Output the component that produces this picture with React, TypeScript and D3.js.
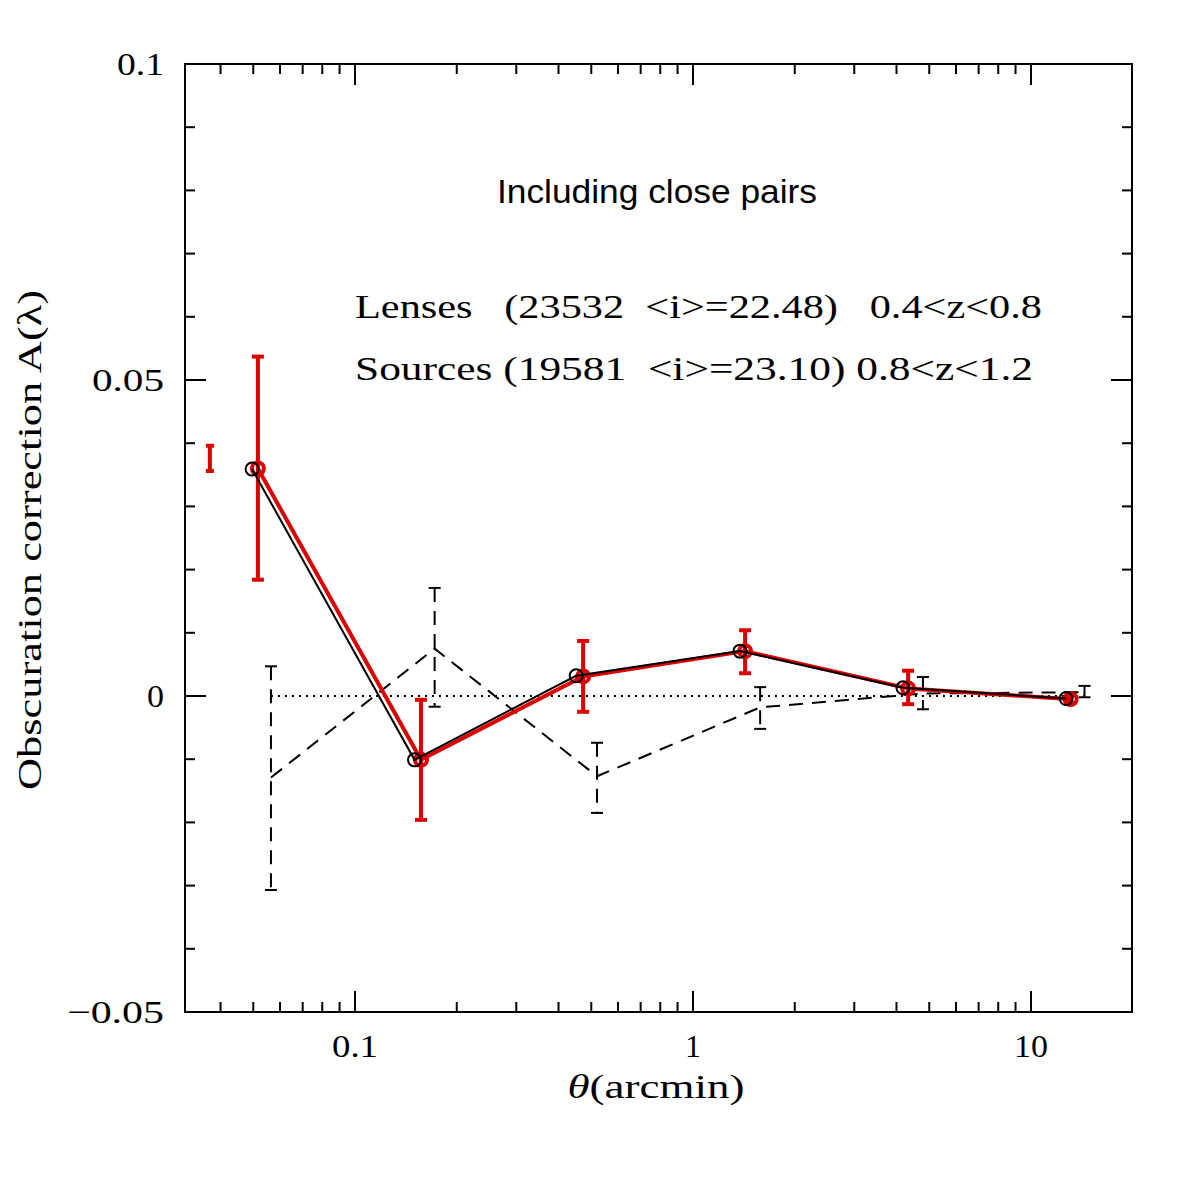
import * as d3 from "d3";

// Red series (thick line, open circles, error bars)
const redTheta = [0.0516, 0.1567, 0.473, 1.426, 4.33, 13.1];
const redA = [0.036, -0.0101, 0.0031, 0.0071, 0.0012, -0.0005];
const redHi = [0.0537, -0.0006, 0.0087, 0.0104, 0.004, 0.0001];
const redLo = [0.0184, -0.0196, -0.0025, 0.0036, -0.0013, -0.0011];

// Black series (thin line, open circles)
const blackTheta = [0.0496, 0.15, 0.451, 1.377, 4.18, 12.7];
const blackA = [0.0359, -0.0101, 0.0032, 0.0071, 0.0013, -0.0004];

// Dashed series (error bars, no markers)
const dashTheta = [0.0564, 0.172, 0.52, 1.58, 4.79, 14.4];
const dashA = [-0.0129, 0.0075, -0.0127, -0.0018, 0.0004, 0.0006];
const dashHi = [0.0047, 0.0171, -0.0074, 0.0014, 0.003, 0.0016];
const dashLo = [-0.0307, -0.0017, -0.0185, -0.0052, -0.0021, -0.0002];

// lone error bar at the far left
const strayTheta = 0.0372;
const strayLo = 0.0356;
const strayHi = 0.0396;

const xMajor = [0.1, 1, 10];
const xMajorLabels = ["0.1", "1", "10"];
const xMinor = [0.04, 0.05, 0.06, 0.07, 0.08, 0.09, 0.2, 0.3, 0.4, 0.5, 0.6, 0.7, 0.8, 0.9, 2, 3, 4, 5, 6, 7, 8, 9];
const yMajor = [-0.05, 0, 0.05, 0.1];
const yMajorLabels = ["\u22120.05", "0", "0.05", "0.1"];
const yMinor = [-0.04, -0.03, -0.02, -0.01, 0.01, 0.02, 0.03, 0.04, 0.06, 0.07, 0.08, 0.09];

// the plot font is wider than Times, so labels are stretched to these widths
const xLabelWidths = [46, 16, 34];
const yLabelWidths = [97, 17, 72, 47];

const RED = "#dd0000";
const SERIF = "'Liberation Serif', 'DejaVu Serif', serif";
const SANS = "'Liberation Sans', Arial, sans-serif";

const App = () => {
    const left = 185;
    const right = 1132;
    const top = 64;
    const bottom = 1012;

    const x = d3.scaleLog().domain([0.0314, 19.9]).range([left, right]);
    const y = d3.scaleLinear().domain([-0.05, 0.1]).range([bottom, top]);

    const line = d3
        .line<[number, number]>()
        .x((d) => x(d[0]))
        .y((d) => y(d[1]));

    const redPts = redTheta.map((t, i) => [t, redA[i]] as [number, number]);
    const blackPts = blackTheta.map((t, i) => [t, blackA[i]] as [number, number]);
    const dashPts = dashTheta.map((t, i) => [t, dashA[i]] as [number, number]);

    const cap = 6;

    return (
        <div style={{ position: "absolute", left: 0, top: 0 }}>
            <svg width={1195} height={1195} style={{ display: "block", background: "#fff" }}>
                {/* zero reference line */}
                <line
                    x1={x(dashTheta[0])}
                    x2={x(dashTheta[dashTheta.length - 1])}
                    y1={y(0)}
                    y2={y(0)}
                    stroke="#000"
                    strokeWidth={2}
                    strokeDasharray="2,5"
                />

                {/* dashed series */}
                <path d={line(dashPts) ?? ""} fill="none" stroke="#000" strokeWidth={2} strokeDasharray="14,9" />
                {dashTheta.map((t, i) => (
                    <g key={"d" + i} stroke="#000" strokeWidth={2}>
                        <line x1={x(t)} x2={x(t)} y1={y(dashHi[i])} y2={y(dashLo[i])} strokeDasharray="14,9" />
                        <line x1={x(t) - cap} x2={x(t) + cap} y1={y(dashHi[i])} y2={y(dashHi[i])} />
                        <line x1={x(t) - cap} x2={x(t) + cap} y1={y(dashLo[i])} y2={y(dashLo[i])} />
                    </g>
                ))}

                {/* stray bar */}
                <g stroke={RED} strokeWidth={4}>
                    <line x1={x(strayTheta)} x2={x(strayTheta)} y1={y(strayHi)} y2={y(strayLo)} />
                    <line x1={x(strayTheta) - 4} x2={x(strayTheta) + 4} y1={y(strayHi)} y2={y(strayHi)} />
                    <line x1={x(strayTheta) - 4} x2={x(strayTheta) + 4} y1={y(strayLo)} y2={y(strayLo)} />
                </g>

                {/* red series */}
                <path d={line(redPts) ?? ""} fill="none" stroke={RED} strokeWidth={4} strokeLinejoin="round" />
                {redTheta.map((t, i) => (
                    <g key={"r" + i} stroke={RED} strokeWidth={4}>
                        <line x1={x(t)} x2={x(t)} y1={y(redHi[i])} y2={y(redLo[i])} />
                        <line x1={x(t) - cap} x2={x(t) + cap} y1={y(redHi[i])} y2={y(redHi[i])} />
                        <line x1={x(t) - cap} x2={x(t) + cap} y1={y(redLo[i])} y2={y(redLo[i])} />
                        <circle cx={x(t)} cy={y(redA[i])} r={6} fill="none" />
                    </g>
                ))}

                {/* black series */}
                <path d={line(blackPts) ?? ""} fill="none" stroke="#000" strokeWidth={2} />
                {blackTheta.map((t, i) => (
                    <circle key={"b" + i} cx={x(t)} cy={y(blackA[i])} r={6.5} fill="none" stroke="#000" strokeWidth={2} />
                ))}

                {/* frame */}
                <rect x={left} y={top} width={right - left} height={bottom - top} fill="none" stroke="#000" strokeWidth={2} />

                {/* ticks */}
                <g stroke="#000" strokeWidth={2}>
                    {xMajor.map((t) => (
                        <g key={"xM" + t}>
                            <line x1={x(t)} x2={x(t)} y1={bottom} y2={bottom - 21} />
                            <line x1={x(t)} x2={x(t)} y1={top} y2={top + 21} />
                        </g>
                    ))}
                    {xMinor.map((t) => (
                        <g key={"xm" + t}>
                            <line x1={x(t)} x2={x(t)} y1={bottom} y2={bottom - 10} />
                            <line x1={x(t)} x2={x(t)} y1={top} y2={top + 10} />
                        </g>
                    ))}
                    {yMajor.map((v) => (
                        <g key={"yM" + v}>
                            <line x1={left} x2={left + 21} y1={y(v)} y2={y(v)} />
                            <line x1={right} x2={right - 21} y1={y(v)} y2={y(v)} />
                        </g>
                    ))}
                    {yMinor.map((v) => (
                        <g key={"ym" + v}>
                            <line x1={left} x2={left + 10} y1={y(v)} y2={y(v)} />
                            <line x1={right} x2={right - 10} y1={y(v)} y2={y(v)} />
                        </g>
                    ))}
                </g>

                {/* tick labels */}
                <g fontFamily={SERIF} fontSize={32} fill="#000">
                    {xMajor.map((t, i) => (
                        <text
                            key={"xl" + t}
                            x={x(t)}
                            y={1057}
                            textAnchor="middle"
                            textLength={xLabelWidths[i]}
                            lengthAdjust="spacingAndGlyphs"
                        >
                            {xMajorLabels[i]}
                        </text>
                    ))}
                    {yMajor.map((v, i) => (
                        <text
                            key={"yl" + v}
                            x={164}
                            y={y(v) + 11}
                            textAnchor="end"
                            textLength={yLabelWidths[i]}
                            lengthAdjust="spacingAndGlyphs"
                        >
                            {yMajorLabels[i]}
                        </text>
                    ))}
                </g>

                {/* axis titles */}
                <text
                    x={656}
                    y={1098}
                    textAnchor="middle"
                    fontFamily={SERIF}
                    fontSize={33}
                    textLength={177}
                    lengthAdjust="spacingAndGlyphs"
                >
                    <tspan fontStyle="italic">θ</tspan>(arcmin)
                </text>
                <text
                    transform="translate(41,540) rotate(-90)"
                    textAnchor="middle"
                    fontFamily={SERIF}
                    fontSize={33}
                    textLength={500}
                    lengthAdjust="spacingAndGlyphs"
                >
                    Obscuration correction A(λ)
                </text>

                {/* annotations */}
                <text
                    x={657}
                    y={203}
                    textAnchor="middle"
                    fontFamily={SANS}
                    fontSize={34}
                    textLength={320}
                    lengthAdjust="spacingAndGlyphs"
                >
                    Including close pairs
                </text>
                <text
                    x={355}
                    y={318}
                    fontFamily={SERIF}
                    fontSize={33}
                    xmlSpace="preserve"
                    style={{ whiteSpace: "pre" }}
                    textLength={687}
                    lengthAdjust="spacingAndGlyphs"
                >
                    {"Lenses   (23532  <i>=22.48)   0.4<z<0.8"}
                </text>
                <text
                    x={355}
                    y={380}
                    fontFamily={SERIF}
                    fontSize={33}
                    xmlSpace="preserve"
                    style={{ whiteSpace: "pre" }}
                    textLength={678}
                    lengthAdjust="spacingAndGlyphs"
                >
                    {"Sources (19581  <i>=23.10) 0.8<z<1.2"}
                </text>
            </svg>
        </div>
    );
};

export default App;
